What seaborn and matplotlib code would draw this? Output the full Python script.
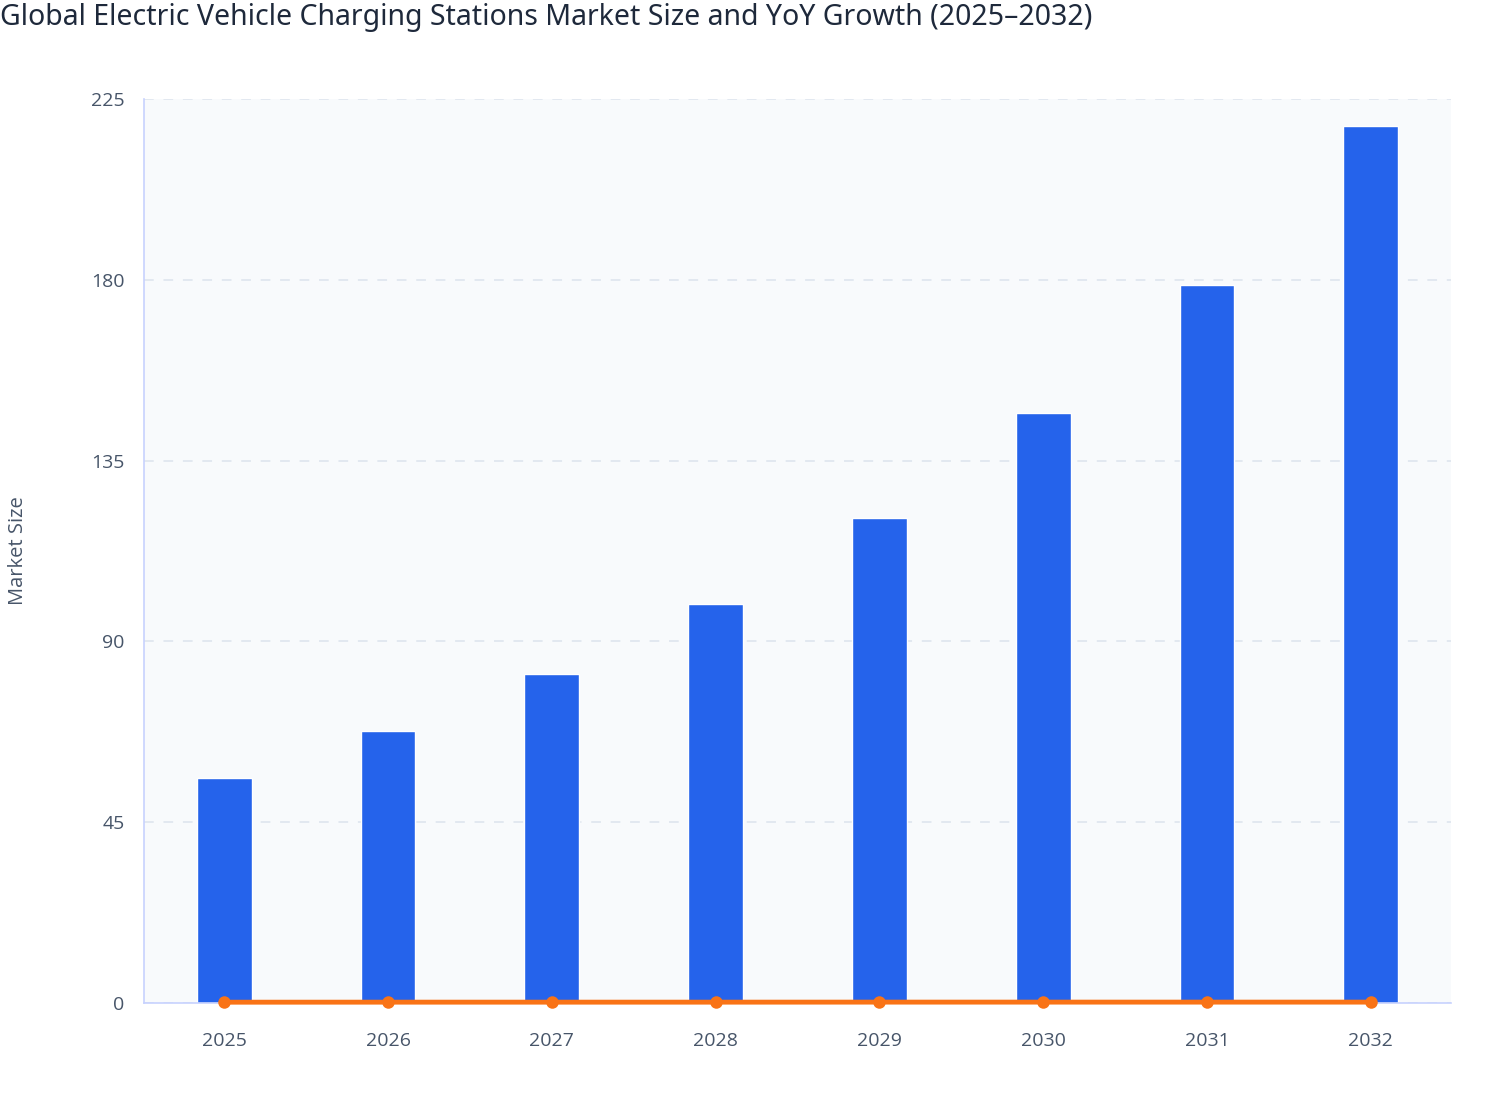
import matplotlib
matplotlib.use("Agg")
import matplotlib.pyplot as plt
import seaborn as sns
import numpy as np
import pandas as pd

years = ["2025", "2026", "2027", "2028", "2029", "2030", "2031", "2032"]
market_size = [56.0, 67.7, 81.9, 99.3, 120.7, 146.8, 178.7, 218.3]
yoy_growth = [0.20, 0.21, 0.21, 0.21, 0.22, 0.22, 0.22, 0.22]
y_ticks = [0, 45, 90, 135, 180, 225]

sns.set_theme(style="white")
plt.rcParams['font.family'] = ['Open Sans', 'Noto Sans', 'DejaVu Sans']

df = pd.DataFrame({"Year": years, "Market Size": market_size, "YoY": yoy_growth})

fig = plt.figure(figsize=(15.08, 11.2), dpi=100)
ax = fig.add_axes([144/1508, 1 - 1003/1120, (1451-144)/1508, (1003-99)/1120])
ax.set_facecolor("#f8fafc")

sns.barplot(data=df, x="Year", y="Market Size", color="#2563eb", width=0.335,
            saturation=1, ax=ax, zorder=2)
sns.lineplot(x=np.arange(len(years)), y=df["YoY"], color="#f97316", linewidth=3.5,
             marker="o", markersize=9, markeredgewidth=0, ax=ax, zorder=3, clip_on=False)

ax.set_xlim(-0.49, len(years) - 0.51)
ax.set_ylim(0, 225)
ax.set_yticks(y_ticks)
ax.set_yticklabels([str(t) for t in y_ticks])
ax.yaxis.grid(True, color="#e2e8f0", linestyle=(0, (5, 5)), linewidth=1.4)
ax.set_axisbelow(True)

for s in ["top", "right"]:
    ax.spines[s].set_visible(False)
for s in ["left", "bottom"]:
    ax.spines[s].set_color("#c7d2fe")
    ax.spines[s].set_linewidth(1.2)

ax.tick_params(axis="both", which="major", length=6, width=1.2, color="#c7d2fe",
               labelsize=14, labelcolor="#475569", pad=8, direction="out")
ax.tick_params(axis="x", pad=15)
ax.set_xlabel("")
ax.set_ylabel("Market Size", fontsize=14.5, color="#475569")
ax.yaxis.set_label_coords(-0.089, 0.5)

fig.text(0.0, 1 - 18/1120, "Global Electric Vehicle Charging Stations Market Size and YoY Growth (2025–2032)",
         fontsize=20.5, fontweight=500, family=['Noto Sans', 'Open Sans', 'DejaVu Sans'],
         color="#1e293b", ha="left", va="center")

fig.savefig("out.png", dpi=100, facecolor="white")
